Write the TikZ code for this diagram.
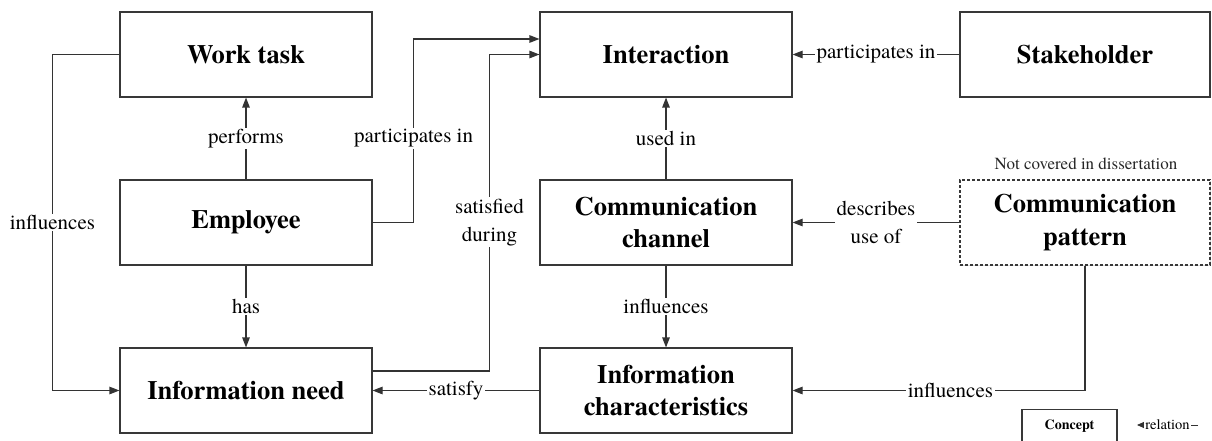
\documentclass[tikz,border=0pt]{standalone}
\usepackage{fontspec}
\setmainfont{texgyretermes}[Extension=.otf, UprightFont=*-regular, BoldFont=*-bold, ItalicFont=*-italic, BoldItalicFont=*-bolditalic]
\usetikzlibrary{arrows.meta,shadows,calc}
\begin{document}
\begin{tikzpicture}[x=1pt,y=-1pt,
  concept/.style={draw=black!78, line width=1.1pt, fill=white,
    minimum width=252pt, minimum height=85pt, inner sep=0pt, align=center,
    font=\fontsize{26.5}{32.5}\selectfont\bfseries,
    drop shadow={shadow xshift=1.3pt, shadow yshift=-1.3pt, opacity=0.3}},
  narrow/.style={minimum width=250pt},
  rel/.style={draw=black!80, line width=1.1pt,
    -{Triangle[length=10pt,width=7.5pt]}},
  lab/.style={fill=white, inner sep=1.5pt, align=center,
    font=\rmfamily\mdseries\fontsize{21}{28}\selectfont},
  note/.style={font=\rmfamily\fontsize{17}{19}\selectfont, text=black!85}]

\clip (0,0) rectangle (1212,441);

% concepts
\node[concept] (task)  at (246,54.5)  {Work task};
\node[concept] (emp)   at (246,222.5) {Employee};
\node[concept] (need)  at (246,390.5) {Information need};
\node[concept] (inter) at (666,54.5)  {Interaction};
\node[concept] (chan)  at (666,222.5) {Communication\\channel};
\node[concept] (chars) at (666,390.5) {Information\\characteristics};
\node[concept,narrow] (stake) at (1085,54.5) {Stakeholder};
\node[concept,narrow,dash pattern=on 3pt off 2pt] (pat) at (1085,222.5) {Communication\\pattern};
\node[note] (scope) at (1086,164) {Not covered in dissertation};

% relations
\draw[rel] (emp) -- node[lab] {performs} (task);
\draw[rel] (emp) -- node[lab] {has} (need);
\draw[rel] (emp.east) -- ++(41,0)
  |- node[lab,pos=0.23] {participates in} ($(inter.west)+(0,-15.5)$);
\draw[rel] ($(need.east)+(0,-19.5)$) -- ++(117,0)
  |- node[lab,pos=0.235] {satisfied\\during} (inter.west);
\draw[rel] (task.west) -- ++(-67,0)
  |- node[lab,pos=0.25] {influences} (need.west);
\draw[rel] (chars) -- node[lab] {satisfy} (need);
\draw[rel] (chan) -- node[lab] {used in} (inter);
\draw[rel] (chan) -- node[lab] {influences} (chars);
\draw[rel] (stake) -- node[lab] {participates in} (inter);
\draw[rel] (pat) -- node[lab] {describes\\use of} (chan);
\draw[rel] (pat.south) |- node[lab,pos=0.73] {influences} (chars.east);

% legend
\node[draw=black!78, line width=1.1pt, fill=white, minimum width=95pt,
  minimum height=34pt, inner sep=0pt,
  font=\fontsize{14}{16}\selectfont\bfseries,
  drop shadow={shadow xshift=1pt, shadow yshift=-1pt, opacity=0.3}]
  (legc) at (1069.5,426.5) {Concept};
\coordinate (lr) at (1198,425);
\coordinate (ll) at (1137,425);
\draw[draw=black!80, line width=0.9pt, -{Triangle[length=7pt,width=6pt]}]
  (lr) -- node[fill=white, inner sep=1pt, font=\rmfamily\fontsize{14.5}{16}\selectfont] {relation} (ll);
\end{tikzpicture}
\end{document}
